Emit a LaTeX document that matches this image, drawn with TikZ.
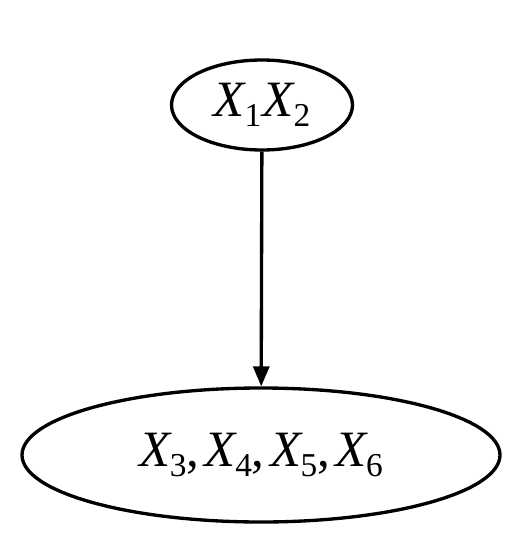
\documentclass[tikz,border=0pt]{standalone}
\usepackage{fontspec}
\setmainfont{Liberation Serif}
\usetikzlibrary{arrows.meta,shapes.geometric}
\newcommand{\xv}[1]{\textit{X}\kern-0.04em\raisebox{-0.45ex}{\fontsize{19}{19}\selectfont #1}}
\newcommand{\cs}{,\kern3pt}
\tikzstyle{en}=[ellipse,draw=black,line width=1.9pt,inner sep=0pt,
  font=\fontsize{29}{29}\selectfont]

\begin{document}
\begin{tikzpicture}
    \useasboundingbox (0,0) rectangle (10.5,-11);
    \node [style=en,minimum width=3.62cm,minimum height=1.8cm] (x12) at (5.24,-2.1) {\xv{1}\kern0.03em\xv{2}};
    \node [style=en,minimum width=9.56cm,minimum height=2.68cm] (x36) at (5.22,-9.1) {\xv{3}\cs\xv{4}\cs\xv{5}\cs\xv{6}};
    \draw [line width=1.9pt,-{Triangle[width=0.32cm,length=0.4cm]}] (x12) to (x36);
\end{tikzpicture}
\end{document}
